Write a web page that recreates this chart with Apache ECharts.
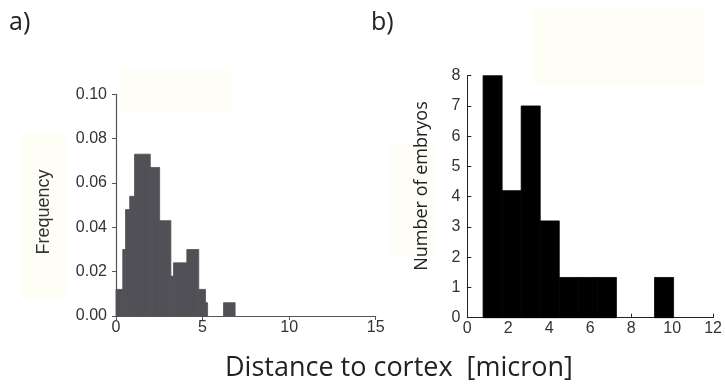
<!DOCTYPE html>
<html>
<head>
<meta charset="utf-8">
<script src="https://cdn.jsdelivr.net/npm/echarts@6/dist/echarts.min.js"></script>
<style>
  html, body { margin: 0; padding: 0; background: #fff; }
  #chart { width: 725px; height: 389px; }
</style>
</head>
<body>
<div id="chart"></div>
<script>
// panel a) histogram: bin edges [start, end] and frequency
const freqBins = [
    [0.00, 0.39], [0.39, 0.55], [0.55, 0.79], [0.79, 1.07], [1.07, 1.98],
    [1.98, 2.52], [2.52, 3.17], [3.17, 3.32], [3.32, 4.09], [4.09, 4.78],
    [4.78, 5.17], [5.17, 5.29], [6.21, 6.88]
];
const freqValues = [0.012, 0.030, 0.048, 0.054, 0.073, 0.067, 0.043, 0.018, 0.024, 0.030, 0.012, 0.006, 0.006];

// panel b) histogram: bin edges and embryo counts
const countBins = [
    [0.77, 1.70], [1.70, 2.63], [2.63, 3.56], [3.56, 4.49], [4.49, 5.42],
    [5.42, 6.35], [6.35, 7.28], [9.14, 10.07]
];
const countValues = [8, 4.2, 7, 3.2, 1.33, 1.33, 1.33, 1.33];

const chart = echarts.init(document.getElementById('chart'));

function histItem(color) {
    return function (params, api) {
        const p0 = api.coord([api.value(0), api.value(2)]);
        const p1 = api.coord([api.value(1), 0]);
        return {
            type: 'rect',
            shape: { x: p0[0], y: p0[1], width: p1[0] - p0[0], height: p1[1] - p0[1] },
            style: { fill: color, stroke: color, lineWidth: 0.8 }
        };
    };
}

const tickFont = { fontFamily: 'Liberation Sans', fontSize: 16, color: '#333' };
const pale = '#fefef6';

const option = {
    animation: false,
    backgroundColor: '#fff',
    graphic: [
        { type: 'rect', z: -10, shape: { x: 120, y: 70, width: 111, height: 42 }, style: { fill: pale } },
        { type: 'rect', z: -10, shape: { x: 20, y: 132, width: 47, height: 168 }, style: { fill: pale } },
        { type: 'rect', z: -10, shape: { x: 533, y: 7, width: 170, height: 78 }, style: { fill: pale } },
        { type: 'rect', z: -10, shape: { x: 390, y: 145, width: 45, height: 112 }, style: { fill: pale } },
        { type: 'text', left: 9, top: 10, style: { text: 'a)', font: '25px "Open Sans"', fill: '#222' } },
        { type: 'text', left: 371, top: 10, style: { text: 'b)', font: '25px "Open Sans"', fill: '#222' } },
        { type: 'text', left: 225, top: 355, style: { text: 'Distance to cortex  [micron]', font: '27px "Open Sans"', fill: '#222' } },
        {
            type: 'text', x: 44.5, y: 212, rotation: Math.PI / 2,
            style: { text: 'Frequency', font: '18px "Liberation Sans"', fill: '#333', align: 'center', verticalAlign: 'middle' }
        },
        {
            type: 'text', x: 421.5, y: 186, rotation: Math.PI / 2,
            style: { text: 'Number of embryos', font: '18px "Open Sans"', fill: '#222', align: 'center', verticalAlign: 'middle' }
        }
    ],
    grid: [
        { left: 116, top: 94.3, width: 259.7, height: 221.7 },
        { left: 467.3, top: 75.7, width: 251, height: 242 }
    ],
    xAxis: [
        {
            gridIndex: 0, type: 'value', min: 0, max: 15, interval: 5,
            axisLine: { lineStyle: { color: '#555', width: 1.2 } },
            axisTick: { show: true, length: 4, lineStyle: { color: '#555' } },
            axisLabel: Object.assign({ margin: 4 }, tickFont),
            splitLine: { show: false }
        },
        {
            gridIndex: 1, type: 'value', min: 0, max: 12, interval: 2,
            axisLine: { lineStyle: { color: '#222', width: 1 } },
            axisTick: { show: true, inside: true, length: 4, lineStyle: { color: '#222' } },
            axisLabel: Object.assign({ margin: 3 }, tickFont),
            splitLine: { show: false }
        }
    ],
    yAxis: [
        {
            gridIndex: 0, type: 'value', min: 0, max: 0.1, interval: 0.02,
            axisLine: { show: true, lineStyle: { color: '#555', width: 1.2 } },
            axisTick: { show: true, length: 4, lineStyle: { color: '#555' } },
            axisLabel: Object.assign({ margin: 9, formatter: v => v.toFixed(2) }, tickFont),
            splitLine: { show: false }
        },
        {
            gridIndex: 1, type: 'value', min: 0, max: 8, interval: 1,
            axisLine: { show: true, lineStyle: { color: '#222', width: 1 } },
            axisTick: { show: true, inside: true, length: 4, lineStyle: { color: '#222' } },
            axisLabel: Object.assign({ margin: 7 }, tickFont),
            splitLine: { show: false }
        }
    ],
    series: [
        {
            type: 'custom', xAxisIndex: 0, yAxisIndex: 0,
            renderItem: histItem('#505056'),
            data: freqBins.map((b, i) => [b[0], b[1], freqValues[i]])
        },
        {
            type: 'custom', xAxisIndex: 1, yAxisIndex: 1,
            renderItem: histItem('#000'),
            data: countBins.map((b, i) => [b[0], b[1], countValues[i]])
        }
    ]
};

chart.setOption(option);
</script>
</body>
</html>
